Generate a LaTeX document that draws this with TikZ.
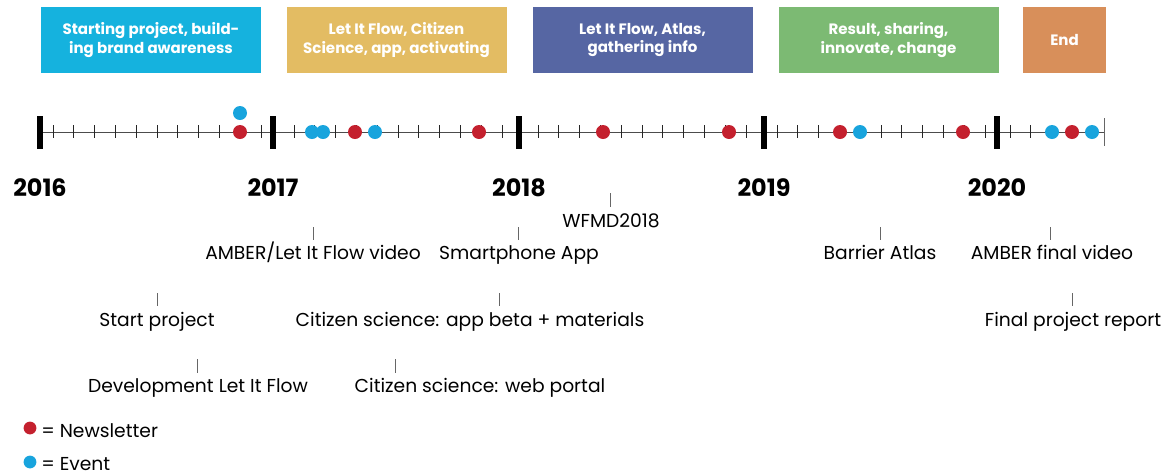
\documentclass[tikz,border=0pt]{standalone}
\usepackage{fontspec}
\setmainfont{Poppins}
\definecolor{startcyan}{RGB}{21,178,222}
\definecolor{flowgold}{RGB}{227,188,99}
\definecolor{atlasblue}{RGB}{86,102,163}
\definecolor{resultgreen}{RGB}{124,186,115}
\definecolor{endorange}{RGB}{216,143,90}
\definecolor{newsred}{RGB}{196,32,46}
\definecolor{eventblue}{RGB}{24,164,221}
\tikzset{
  phase/.style={fill=#1,text=white,font=\fontsize{10.7}{13}\selectfont\bfseries,align=center,
                minimum width=55mm,minimum height=16.5mm,inner sep=0pt},
  axis/.style={black!70,line width=0.6pt},
  yearmark/.style={black,line width=4.2pt},
  monthtick/.style={black!85,line width=0.7pt},
  endmark/.style={black!60,line width=0.7pt},
  newsdot/.style={circle,fill=newsred,minimum size=3.5mm,inner sep=0pt},
  eventdot/.style={newsdot,fill=eventblue},
  year/.style={font=\fontsize{17}{19}\selectfont\bfseries,anchor=base,inner sep=0pt},
  lab/.style={font=\fontsize{13.3}{15}\selectfont,anchor=base,inner sep=0pt},
  pin/.style={black!60,line width=0.6pt},
  key/.style={lab,anchor=base west},
}

\begin{document}
\begin{tikzpicture}[x=0.25mm,y=-0.25mm]
  \path[use as bounding box] (0,0) rectangle (1170,475);

  % phases
  \node[phase=startcyan] (p2016) at (151,40) {Starting project, build-\\ing brand awareness};
  \node[phase=flowgold] (p2017) at (396.5,40) {Let It Flow, Citizen\\Science, app, activating};
  \node[phase=atlasblue] (p2018) at (642.5,40) {Let It Flow, Atlas,\\gathering info};
  \node[phase=resultgreen] (p2019) at (888.5,40) {Result, sharing,\\innovate, change};
  \node[phase=endorange,minimum width=20.75mm] (p2020) at (1064.5,40) {End};

  % timeline
  \coordinate (tstart) at (40,132);
  \coordinate (tend) at (1104,132);
  \draw[axis] (tstart) -- (tend);
  \foreach \first/\n/\d in {53/10/20.8,294/10/20.8,538/10/20.8,777/10/20.8,1010/4/20.5}
    \foreach \k in {0,...,\n}
      \draw[monthtick] ({\first+\k*\d},125) -- ({\first+\k*\d},138);
  \foreach \yr/\x in {2016/40,2017/273,2018/519,2019/764,2020/997} {
    \draw[yearmark] (\x,116) -- (\x,149);
    \node[year] (y\yr) at (\x,196) {\yr};
  }
  \draw[endmark] (1104,118) -- (1104,146);

  % newsletters and events
  \foreach \x in {240,355,479,603,729,840,963,1072}
    \node[newsdot] (news\x) at (\x,132) {};
  \foreach \x in {312,323,375,860,1052,1092}
    \node[eventdot] (event\x) at (\x,132) {};
  \node[eventdot] (eventtop) at (240,113) {};

  % milestones
  \draw[pin] (610,193) -- (610,207);
  \node[lab] (wfmd) at (611,227) {WFMD2018};
  \draw[pin] (313,227) -- (313,240);
  \node[lab] (ambervid) at (313,259) {AMBER/Let It Flow video};
  \draw[pin] (518,227) -- (518,240);
  \node[lab] (app) at (519,259) {Smartphone App};
  \draw[pin] (880,227) -- (880,240);
  \node[lab] (atlas) at (880,259) {Barrier Atlas};
  \draw[pin] (1050,227) -- (1050,240);
  \node[lab] (finalvid) at (1052,259) {AMBER final video};
  \draw[pin] (157,293) -- (157,306);
  \node[lab] (start) at (157,326) {Start project};
  \draw[pin] (499,293) -- (499,306);
  \node[lab] (appbeta) at (470,326) {Citizen science: app beta + materials};
  \draw[pin] (1072,293) -- (1072,306);
  \node[lab] (report) at (1073,326) {Final project report};
  \draw[pin] (197,359) -- (197,373);
  \node[lab] (develop) at (198,392) {Development Let It Flow};
  \draw[pin] (395,359) -- (395,373);
  \node[lab] (portal) at (480,392) {Citizen science: web portal};

  % legend
  \node[newsdot,minimum size=3.2mm] (keynewsdot) at (30,428) {};
  \node[key] (keynews) at (41,437) {= Newsletter};
  \node[eventdot,minimum size=3.2mm] (keyeventdot) at (30,462) {};
  \node[key] (keyevent) at (41,470) {= Event};
\end{tikzpicture}
\end{document}
